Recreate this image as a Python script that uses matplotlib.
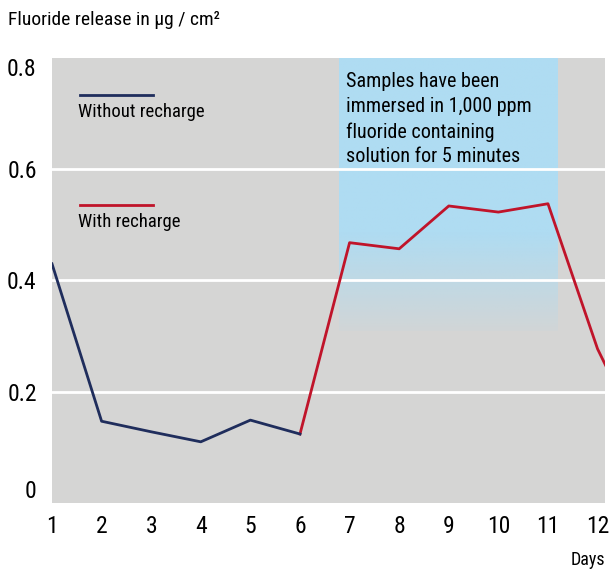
import numpy as np
import matplotlib
matplotlib.use("Agg")
import matplotlib.pyplot as plt
from matplotlib.colors import to_rgb

plt.rcParams['font.family'] = ['Roboto Condensed', 'Liberation Sans Narrow',
                               'Liberation Sans', 'DejaVu Sans']

# data
days_without = [1, 2, 3, 4, 5, 6]
without_recharge = [0.43, 0.147, 0.128, 0.11, 0.149, 0.124]
days_with = [6, 7, 8, 9, 10, 11, 12, 13]
with_recharge = [0.124, 0.468, 0.457, 0.534, 0.523, 0.538, 0.277, 0.095]
day_ticks = list(range(1, 13))
y_ticks = [0, 0.2, 0.4, 0.6, 0.8]
y_labels = ["0", "0.2", "0.4", "0.6", "0.8"]

navy = '#1f2d5c'
red = '#c0142a'
gray = '#d5d5d4'
blue = '#afdcf2'

fig = plt.figure(figsize=(6.13, 5.69), dpi=100)
ax = fig.add_axes([52 / 613, 66 / 569, 553 / 613, 445 / 569])
ax.set_facecolor(gray)
ax.set_xlim(1, 12.15)
ax.set_ylim(0, 0.8)
for s in ax.spines.values():
    s.set_visible(False)

# recharge box: light blue fading into the gray towards the bottom
n = 200
yy = np.linspace(0.8, 0.31, n)
alpha = np.clip((yy - 0.31) / (0.485 - 0.31), 0, 1)
img = np.zeros((n, 2, 4))
img[:, :, :3] = to_rgb(blue)
img[:, :, 3] = alpha[:, None] * 0.9 + 0.1
ax.imshow(img, extent=[6.79, 11.2, 0.31, 0.8], aspect='auto', zorder=1,
          interpolation='bilinear')

for y in y_ticks[1:-1]:
    ax.axhline(y, color='white', lw=2, zorder=1.5)

ax.plot(days_with, with_recharge, color=red, lw=2, zorder=3)
ax.plot(days_without, without_recharge, color=navy, lw=2, zorder=3)

# ticks
ax.set_xticks(day_ticks)
ax.set_xticklabels([str(d) for d in day_ticks], fontsize=17)
ax.tick_params(axis='x', which='major', length=0, pad=8.5)
ax.set_xticks(day_ticks[1:-1], minor=True)
ax.tick_params(axis='x', which='minor', direction='in', length=6, width=1.5,
               color='white')
ax.set_yticks(y_ticks)
ax.set_yticklabels(y_labels, fontsize=17)
ax.tick_params(axis='y', length=0, pad=11)
ylabs = ax.get_yticklabels()
ylabs[0].set_va('bottom')
ylabs[-1].set_va('top')

# legend drawn inside the plot
ax.plot([1.565, 3.04], [0.734, 0.734], color=navy, lw=2, zorder=3)
ax.text(1.53, 0.703, "Without recharge", fontsize=13.5, va='center', ha='left')
ax.plot([1.565, 3.04], [0.536, 0.536], color=red, lw=2, zorder=3)
ax.text(1.53, 0.505, "With recharge", fontsize=13.5, va='center', ha='left')

ax.text(6.93, 0.774, "Samples have been\nimmersed in 1,000 ppm\nfluoride containing\nsolution for 5 minutes",
        fontsize=14.5, va='top', ha='left', linespacing=1.38, zorder=4)

fig.text(8 / 613, 1 - 20 / 569, "Fluoride release in µg / cm²", fontsize=14,
         va='center', ha='left')
fig.text(605 / 613, 1 - 560 / 569, "Days", fontsize=13, va='center', ha='right')

fig.savefig("out.png", dpi=100)
